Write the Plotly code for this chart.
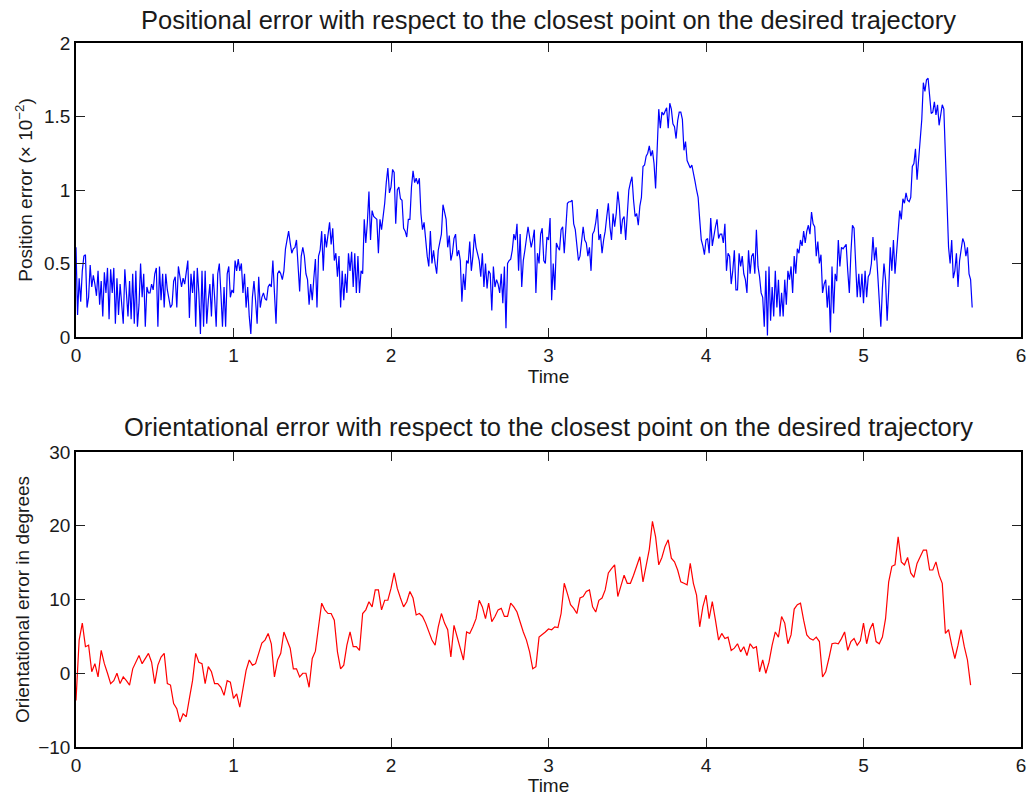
import numpy as np
import plotly.graph_objects as go

# Sampling steps of the two logged signals (seconds)
POS_STEP = 0.01
ORI_STEP = 0.02

# Positional error, in units of 1e-2
position_error = [
    0.61, 0.15, 0.40, 0.24, 0.45, 0.55, 0.56, 0.20, 0.27, 0.49,
    0.34, 0.42, 0.36, 0.28, 0.45, 0.22, 0.38, 0.14, 0.44, 0.30,
    0.47, 0.12, 0.46, 0.30, 0.47, 0.09, 0.40, 0.15, 0.36, 0.25,
    0.09, 0.46, 0.30, 0.14, 0.38, 0.12, 0.43, 0.09, 0.45, 0.07,
    0.22, 0.50, 0.27, 0.43, 0.07, 0.34, 0.30, 0.30, 0.36, 0.32,
    0.43, 0.47, 0.07, 0.48, 0.25, 0.43, 0.20, 0.43, 0.32, 0.25,
    0.20, 0.22, 0.38, 0.41, 0.20, 0.48, 0.40, 0.34, 0.40, 0.36,
    0.44, 0.52, 0.13, 0.43, 0.30, 0.45, 0.07, 0.47, 0.30, 0.02,
    0.45, 0.07, 0.45, 0.09, 0.25, 0.36, 0.14, 0.43, 0.27, 0.07,
    0.43, 0.50, 0.30, 0.07, 0.34, 0.07, 0.43, 0.48, 0.27, 0.32,
    0.30, 0.52, 0.45, 0.53, 0.45, 0.50, 0.30, 0.43, 0.20, 0.34,
    0.14, 0.02, 0.27, 0.38, 0.25, 0.09, 0.41, 0.20, 0.27, 0.30,
    0.26, 0.25, 0.34, 0.36, 0.34, 0.52, 0.30, 0.09, 0.43, 0.45,
    0.43, 0.39, 0.45, 0.60, 0.66, 0.72, 0.64, 0.57, 0.60, 0.61,
    0.66, 0.45, 0.31, 0.55, 0.61, 0.55, 0.43, 0.39, 0.22, 0.36,
    0.25, 0.40, 0.53, 0.20, 0.55, 0.59, 0.72, 0.45, 0.70, 0.61,
    0.70, 0.78, 0.63, 0.74, 0.52, 0.57, 0.41, 0.55, 0.20, 0.45,
    0.25, 0.43, 0.30, 0.57, 0.45, 0.58, 0.34, 0.57, 0.30, 0.55,
    0.30, 0.45, 0.43, 0.80, 0.64, 0.78, 0.99, 0.66, 0.86, 0.82,
    0.81, 0.80, 0.57, 0.80, 0.73, 0.82, 0.91, 1.05, 1.15, 0.98,
    1.02, 1.14, 1.12, 0.77, 1.00, 1.02, 0.94, 0.93, 0.74, 0.72,
    0.68, 0.80, 0.80, 1.02, 1.13, 1.05, 1.08, 1.04, 1.08, 0.84,
    0.73, 0.78, 0.66, 0.55, 0.48, 0.72, 0.50, 0.59, 0.50, 0.43,
    0.59, 0.66, 0.70, 0.90, 0.86, 0.80, 0.61, 0.69, 0.52, 0.57,
    0.67, 0.70, 0.55, 0.59, 0.52, 0.24, 0.43, 0.32, 0.52, 0.50,
    0.65, 0.45, 0.55, 0.70, 0.61, 0.57, 0.52, 0.41, 0.57, 0.34,
    0.50, 0.33, 0.45, 0.43, 0.18, 0.48, 0.34, 0.39, 0.36, 0.30,
    0.43, 0.23, 0.48, 0.06, 0.50, 0.52, 0.53, 0.59, 0.70, 0.66,
    0.77, 0.45, 0.70, 0.34, 0.52, 0.59, 0.66, 0.75, 0.68, 0.61,
    0.66, 0.73, 0.30, 0.57, 0.50, 0.70, 0.74, 0.52, 0.50, 0.68,
    0.66, 0.81, 0.25, 0.50, 0.32, 0.64, 0.61, 0.59, 0.73, 0.75,
    0.57, 0.76, 0.91, 0.92, 0.92, 0.93, 0.77, 0.73, 0.62, 0.52,
    0.55, 0.64, 0.75, 0.66, 0.64, 0.55, 0.61, 0.45, 0.70, 0.72,
    0.78, 0.87, 0.66, 0.70, 0.57, 0.66, 0.72, 0.82, 0.91, 0.75,
    0.66, 0.84, 0.75, 0.84, 0.99, 0.89, 0.70, 0.80, 0.82, 0.66,
    0.82, 1.00, 1.05, 1.09, 0.93, 0.82, 0.84, 0.76, 0.89, 0.95,
    1.16, 1.17, 1.23, 1.25, 1.30, 1.23, 1.27, 1.18, 1.01, 1.30,
    1.55, 1.42, 1.53, 1.51, 1.53, 1.56, 1.42, 1.59, 1.55, 1.45,
    1.43, 1.35, 1.47, 1.53, 1.53, 1.48, 1.27, 1.33, 1.20, 1.17,
    1.15, 1.17, 1.10, 1.06, 1.00, 0.95, 0.80, 0.66, 0.62, 0.56,
    0.66, 0.67, 0.57, 0.81, 0.62, 0.70, 0.75, 0.80, 0.67, 0.70,
    0.70, 0.64, 0.77, 0.45, 0.57, 0.55, 0.36, 0.45, 0.59, 0.32,
    0.32, 0.57, 0.48, 0.55, 0.43, 0.39, 0.30, 0.59, 0.43, 0.55,
    0.57, 0.43, 0.73, 0.48, 0.41, 0.30, 0.27, 0.07, 0.45, 0.01,
    0.48, 0.11, 0.34, 0.14, 0.45, 0.20, 0.39, 0.14, 0.30, 0.14,
    0.39, 0.22, 0.45, 0.39, 0.48, 0.30, 0.55, 0.43, 0.60, 0.57,
    0.66, 0.62, 0.72, 0.64, 0.72, 0.76, 0.70, 0.85, 0.77, 0.75,
    0.55, 0.65, 0.50, 0.56, 0.30, 0.36, 0.39, 0.20, 0.35, 0.03,
    0.48, 0.16, 0.43, 0.38, 0.66, 0.48, 0.61, 0.60, 0.62, 0.63,
    0.45, 0.30, 0.57, 0.76, 0.74, 0.52, 0.27, 0.43, 0.27, 0.43,
    0.23, 0.45, 0.27, 0.41, 0.43, 0.50, 0.68, 0.52, 0.61, 0.43,
    0.20, 0.07, 0.33, 0.50, 0.39, 0.11, 0.32, 0.61, 0.45, 0.66,
    0.43, 0.59, 0.73, 0.86, 0.80, 0.94, 0.91, 0.98, 0.93, 0.92,
    0.95, 1.16, 1.18, 1.28, 1.07, 1.22, 1.39, 1.48, 1.73, 1.67,
    1.75, 1.76, 1.64, 1.52, 1.53, 1.60, 1.51, 1.58, 1.44, 1.50,
    1.58, 1.55, 1.25, 0.86, 0.61, 0.50, 0.66, 0.40, 0.45, 0.57,
    0.34, 0.52, 0.59, 0.67, 0.64, 0.55, 0.61, 0.43, 0.39, 0.20,
]

# Orientational error in degrees
orientation_error = [
    -3.7, 4.5, 6.8, 3.6, 3.8, 0.2, 1.3, -0.5, 3.1, 1.3,
    0.0, -1.4, -1.0, 0.0, -1.4, -0.5, -1.0, -1.6, 0.6, 1.5,
    2.4, 1.3, 2.0, 2.7, 1.5, -1.4, 1.1, 2.2, 2.7, -1.4,
    -1.6, -4.1, -4.8, -6.6, -5.5, -5.9, -3.4, -1.0, 2.7, 1.5,
    1.3, -1.4, 0.9, 0.2, -1.4, -1.4, -1.9, -3.0, -1.0, -1.2,
    -3.4, -2.8, -4.6, -2.3, 0.4, 1.8, 1.1, 1.3, 2.7, 4.1,
    4.5, 5.4, 4.0, -0.5, 1.8, 2.7, 5.6, 4.5, 3.4, 0.6,
    0.6, -0.5, 0.0, 0.0, -1.9, 2.0, 3.0, 6.3, 9.5, 8.6,
    8.1, 8.1, 7.2, 2.9, 0.6, 1.1, 3.8, 5.6, 3.6, 3.6,
    3.1, 8.1, 8.6, 9.7, 9.0, 11.3, 11.3, 8.6, 9.9, 9.9,
    11.5, 13.6, 11.5, 10.2, 9.0, 9.7, 11.1, 10.2, 7.9, 8.1,
    7.7, 6.8, 5.6, 4.5, 3.8, 6.3, 8.1, 6.8, 5.9, 2.2,
    6.5, 4.9, 3.1, 1.8, 5.6, 5.4, 6.3, 7.4, 9.9, 9.0,
    7.4, 9.5, 7.0, 7.7, 8.6, 8.8, 7.7, 7.7, 9.5, 9.0,
    8.3, 6.8, 5.6, 4.5, 2.9, 0.6, 0.9, 4.9, 5.2, 5.6,
    6.0, 5.9, 6.3, 6.2, 8.1, 12.2, 10.8, 9.3, 8.8, 8.1,
    10.2, 10.4, 11.1, 11.3, 9.0, 8.3, 9.9, 10.2, 11.3, 13.6,
    14.2, 14.7, 10.4, 11.7, 13.3, 12.2, 12.2, 13.3, 14.7, 15.8,
    12.4, 14.7, 16.8, 20.6, 18.5, 14.7, 15.7, 17.2, 18.1, 15.6,
    15.1, 14.0, 12.4, 12.2, 12.0, 14.9, 12.2, 10.6, 6.3, 9.0,
    10.6, 7.4, 9.7, 7.2, 4.5, 5.4, 4.7, 4.9, 3.1, 3.4,
    4.0, 2.9, 3.6, 2.4, 4.0, 3.4, 3.6, 0.2, 1.8, 0.0,
    1.5, 3.8, 5.6, 4.9, 7.7, 6.8, 4.0, 5.2, 8.7, 9.3,
    9.5, 7.2, 5.2, 4.7, 4.5, 4.9, 4.3, -0.5, 0.2, 2.0,
    4.0, 4.1, 4.0, 4.7, 5.6, 3.1, 4.3, 4.7, 3.8, 4.4,
    6.8, 4.0, 5.9, 6.8, 4.3, 4.0, 4.9, 7.4, 12.4, 14.5,
    14.7, 18.5, 15.1, 14.7, 15.7, 13.6, 13.0, 14.9, 15.9, 16.7,
    16.7, 14.0, 14.0, 15.1, 13.3, 12.2, 5.4, 5.9, 3.8, 2.0,
    3.8, 5.9, 3.6, 1.8, -1.6,
]

x_ticks = [0, 1, 2, 3, 4, 5, 6]
pos_ticks = [0, 0.5, 1, 1.5, 2]
ori_ticks = [-10, 0, 10, 20, 30]

t_pos = np.arange(len(position_error)) * POS_STEP
t_ori = np.arange(len(orientation_error)) * ORI_STEP

FONT = "Liberation Sans, Arial, Helvetica, sans-serif"
TEXT = "#1a1a1a"

fig = go.Figure()
fig.add_trace(go.Scatter(x=t_pos, y=position_error, mode="lines",
                         line=dict(color="#0000FF", width=1.2),
                         xaxis="x", yaxis="y", showlegend=False))
fig.add_trace(go.Scatter(x=t_ori, y=orientation_error, mode="lines",
                         line=dict(color="#FF0000", width=1.2),
                         xaxis="x2", yaxis="y2", showlegend=False))

axis_style = dict(
    showline=True, linecolor="black", linewidth=1.6, mirror="ticks",
    ticks="inside", ticklen=9, tickwidth=1, tickcolor="#222222",
    showgrid=False, zeroline=False, automargin=False,
    tickfont=dict(family=FONT, size=19, color=TEXT),
)

fig.update_layout(
    width=1035, height=796,
    margin=dict(l=76, r=14, t=43, b=49, autoexpand=False),
    paper_bgcolor="white", plot_bgcolor="white",
    font=dict(family=FONT, color=TEXT),
    xaxis=dict(domain=[0, 1], anchor="y", range=[0, 6], tickvals=x_ticks,
               title=dict(text="Time", font=dict(size=19), standoff=3),
               **axis_style),
    yaxis=dict(domain=[0.5824, 1], anchor="x", range=[0, 2], tickvals=pos_ticks,
               title=dict(text="Position error (× 10<sup>−2</sup>)",
                          font=dict(size=19), standoff=6),
               **axis_style),
    xaxis2=dict(domain=[0, 1], anchor="y2", range=[0, 6], tickvals=x_ticks,
                title=dict(text="Time", font=dict(size=19), standoff=4),
                **axis_style),
    yaxis2=dict(domain=[0, 0.419], anchor="x2", range=[-10, 30], tickvals=ori_ticks,
                title=dict(text="Orientational error in degrees",
                           font=dict(size=19), standoff=4),
                **axis_style),
    annotations=[
        dict(text="Positional error with respect to the closest point on the desired trajectory",
             xref="paper", yref="paper", x=0.5, y=1.0327, xanchor="center",
             yanchor="middle", showarrow=False, font=dict(family=FONT, size=25.5, color=TEXT)),
        dict(text="Orientational error with respect to the closest point on the desired trajectory",
             xref="paper", yref="paper", x=0.5, y=0.455, xanchor="center",
             yanchor="middle", showarrow=False, font=dict(family=FONT, size=25.5, color=TEXT)),
    ],
)

fig.write_html("out.html")
